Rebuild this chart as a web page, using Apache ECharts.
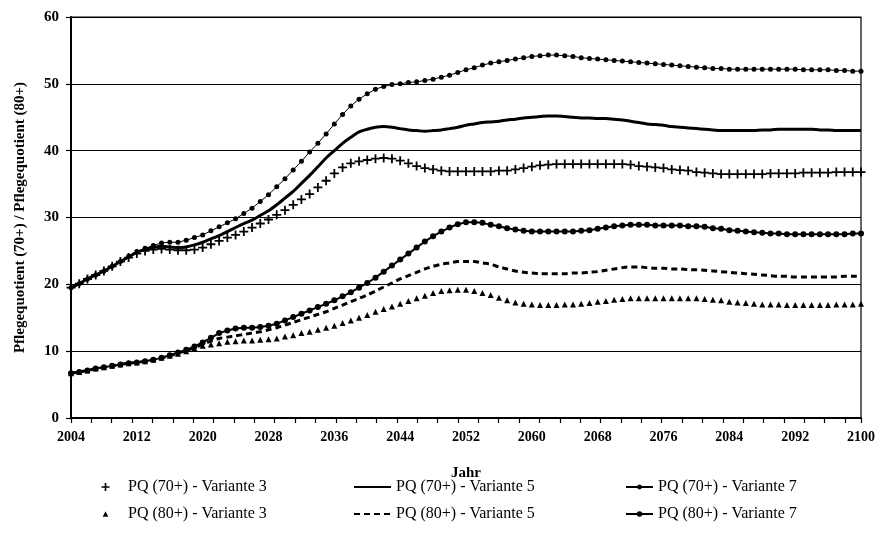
<!DOCTYPE html>
<html>
<head>
<meta charset="utf-8">
<script src="https://cdn.jsdelivr.net/npm/echarts@6/dist/echarts.min.js"></script>
<style>html,body{margin:0;padding:0;background:#fff}#c{width:878px;height:553px}</style>
</head>
<body>
<div id="c"></div>
<script>
// Categories: years 2004..2100
var years = [];
for (var y = 2004; y <= 2100; y++) years.push(String(y));

var yTicks = [0, 10, 20, 30, 40, 50, 60];

var pq70_v3 = [19.5,20.1,20.8,21.4,22.0,22.7,23.4,24.0,24.6,25.0,25.2,25.3,25.2,25.1,25.1,25.2,25.5,26.0,26.5,27.0,
27.4,27.9,28.5,29.1,29.7,30.4,31.1,31.9,32.7,33.5,34.5,35.5,36.6,37.5,38.1,38.4,38.6,38.8,38.9,38.8,
38.5,38.1,37.7,37.4,37.2,37.0,36.9,36.9,36.9,36.9,36.9,36.9,37.0,37.0,37.2,37.4,37.6,37.8,37.9,38.0,
38.0,38.0,38.0,38.0,38.0,38.0,38.0,38.0,37.9,37.7,37.6,37.5,37.4,37.2,37.1,37.0,36.8,36.7,36.6,36.5,
36.5,36.5,36.5,36.5,36.5,36.6,36.6,36.6,36.6,36.7,36.7,36.7,36.7,36.8,36.8,36.8,36.8];

var pq70_v5 = [19.5,20.1,20.8,21.4,22.0,22.7,23.4,24.1,24.8,25.2,25.5,25.7,25.6,25.5,25.6,25.9,26.3,26.8,27.3,27.9,
28.5,29.1,29.6,30.3,31.0,31.9,32.9,33.9,35.1,36.3,37.6,38.9,40.0,41.1,42.0,42.8,43.2,43.5,43.6,43.5,
43.3,43.1,43.0,42.9,43.0,43.1,43.3,43.5,43.8,44.0,44.2,44.3,44.4,44.6,44.7,44.9,45.0,45.1,45.2,45.2,
45.1,45.0,44.9,44.9,44.8,44.8,44.7,44.6,44.4,44.2,44.0,43.9,43.8,43.6,43.5,43.4,43.3,43.2,43.1,43.0,
43.0,43.0,43.0,43.0,43.1,43.1,43.2,43.2,43.2,43.2,43.2,43.1,43.1,43.0,43.0,43.0,43.0];

var pq70_v7 = [19.5,20.1,20.8,21.4,22.0,22.7,23.4,24.2,24.9,25.4,25.8,26.2,26.3,26.3,26.6,27.0,27.4,28.0,28.6,29.2,
29.8,30.6,31.4,32.4,33.4,34.6,35.8,37.1,38.4,39.8,41.1,42.5,44.0,45.4,46.7,47.7,48.5,49.2,49.6,49.9,
50.0,50.2,50.3,50.5,50.7,51.0,51.3,51.7,52.1,52.4,52.8,53.1,53.3,53.5,53.7,53.9,54.1,54.2,54.3,54.3,
54.2,54.1,53.9,53.8,53.7,53.6,53.5,53.4,53.3,53.2,53.1,53.0,52.9,52.8,52.7,52.6,52.5,52.4,52.3,52.3,
52.2,52.2,52.2,52.2,52.2,52.2,52.2,52.2,52.2,52.1,52.1,52.1,52.1,52.0,52.0,51.9,51.9];

var pq80_v3 = [6.7,6.9,7.1,7.4,7.6,7.8,8.0,8.2,8.3,8.5,8.7,9.0,9.3,9.6,10.0,10.4,10.8,11.0,11.2,11.4,
11.5,11.6,11.6,11.7,11.8,11.9,12.2,12.4,12.7,12.9,13.2,13.5,13.8,14.2,14.6,15.0,15.4,15.9,16.3,16.7,
17.1,17.5,17.9,18.3,18.7,19.0,19.1,19.2,19.2,19.0,18.7,18.4,18.0,17.6,17.3,17.1,17.0,16.9,16.9,16.9,
17.0,17.0,17.1,17.2,17.4,17.5,17.7,17.8,17.9,17.9,17.9,17.9,17.9,17.9,17.9,17.9,17.9,17.8,17.7,17.6,
17.4,17.3,17.2,17.1,17.0,17.0,17.0,16.9,16.9,16.9,16.9,16.9,16.9,17.0,17.0,17.0,17.1];

var pq80_v5 = [6.7,6.9,7.1,7.4,7.6,7.8,8.0,8.2,8.3,8.5,8.7,9.0,9.3,9.7,10.1,10.5,11.0,11.5,11.9,12.1,
12.3,12.5,12.7,12.9,13.2,13.5,13.9,14.3,14.7,15.1,15.5,15.9,16.4,16.9,17.4,17.9,18.4,19.0,19.6,20.2,
20.8,21.3,21.8,22.3,22.7,23.0,23.2,23.4,23.4,23.4,23.2,23.0,22.6,22.3,22.0,21.8,21.7,21.6,21.6,21.6,
21.6,21.7,21.7,21.8,21.9,22.1,22.3,22.5,22.6,22.6,22.5,22.4,22.4,22.3,22.3,22.2,22.2,22.1,22.0,21.9,
21.8,21.7,21.6,21.5,21.4,21.3,21.2,21.2,21.1,21.1,21.1,21.1,21.1,21.1,21.2,21.2,21.2];

var pq80_v7 = [6.7,6.9,7.1,7.4,7.6,7.8,8.0,8.2,8.3,8.5,8.7,9.0,9.4,9.8,10.2,10.7,11.3,12.0,12.7,13.1,
13.4,13.5,13.5,13.6,13.8,14.1,14.6,15.1,15.6,16.1,16.6,17.1,17.6,18.2,18.8,19.5,20.2,21.0,21.9,22.8,
23.7,24.6,25.5,26.4,27.2,27.9,28.5,29.0,29.3,29.3,29.2,28.9,28.7,28.4,28.2,28.0,27.9,27.9,27.9,27.9,
27.9,27.9,28.0,28.1,28.3,28.5,28.7,28.8,28.9,28.9,28.9,28.8,28.8,28.8,28.8,28.7,28.7,28.6,28.4,28.3,
28.1,28.0,27.9,27.8,27.7,27.6,27.6,27.5,27.5,27.5,27.5,27.5,27.5,27.5,27.5,27.6,27.6];

var names = ['PQ (70+) - Variante 3','PQ (70+) - Variante 5','PQ (70+) - Variante 7',
             'PQ (80+) - Variante 3','PQ (80+) - Variante 5','PQ (80+) - Variante 7'];

var FONT = '"Liberation Serif", "Times New Roman", serif';
var plusPath = 'path://M4,0L6,0L6,4L10,4L10,6L6,6L6,10L4,10L4,6L0,6L0,4L4,4Z';

var chart = echarts.init(document.getElementById('c'), null, {renderer: 'canvas'});

var legendText = {fontFamily: FONT, fontSize: 16, color: '#000'};
function leg(item, left, top, w, h) {
  return {data: [item], orient: 'horizontal', left: left, top: top, itemWidth: w, itemHeight: h,
          textStyle: legendText, selectedMode: false};
}

chart.setOption({
  animation: false,
  backgroundColor: '#fff',
  grid: {left: 71, right: 15, top: 17, bottom: 135, show: true, borderColor: '#000', borderWidth: 1.2, containLabel: false},
  legend: [
    leg({name: names[0]}, 83, 474, 35, 10),
    leg({name: names[3]}, 83, 501, 35, 7),
    leg({name: names[1], itemStyle: {opacity: 0}}, 348, 474, 37, 10),
    leg({name: names[4], itemStyle: {opacity: 0}}, 348, 501, 37, 10),
    leg({name: names[2]}, 620, 474, 27, 6),
    leg({name: names[5]}, 620, 501, 27, 7)
  ],
  xAxis: [
    {type: 'category', data: years, boundaryGap: false,
     axisLine: {lineStyle: {color: '#000', width: 2}},
     axisTick: {show: false},
     axisLabel: {interval: 7, margin: 12, color: '#000', fontFamily: FONT, fontWeight: 'bold', fontSize: 14},
     name: 'Jahr', nameLocation: 'middle', nameGap: 48,
     nameTextStyle: {fontFamily: FONT, fontWeight: 'bold', fontSize: 15, color: '#000'},
     splitLine: {show: false}},
    {type: 'value', min: 0, max: 96, interval: 2.475, position: 'bottom',
     axisLine: {show: false}, axisLabel: {show: false}, splitLine: {show: false},
     axisTick: {show: true, inside: false, length: 5, lineStyle: {color: '#000', width: 1.2}}}
  ],
  yAxis: {
    type: 'value', min: 0, max: 60, interval: 10,
    axisLine: {show: true, lineStyle: {color: '#000', width: 2}},
    axisTick: {show: true, length: 5, lineStyle: {color: '#000', width: 1.2}},
    axisLabel: {margin: 12, color: '#000', fontFamily: FONT, fontWeight: 'bold', fontSize: 15,
                formatter: function (v) { return yTicks.indexOf(v) >= 0 ? String(v) : ''; }},
    splitLine: {show: true, lineStyle: {color: '#000', width: 1}},
    name: 'Pflegequotient (70+) / Pflegequotient (80+)', nameLocation: 'middle', nameGap: 43,
    nameTextStyle: {fontFamily: FONT, fontWeight: 'bold', fontSize: 15, color: '#000'}
  },
  series: [
    {name: names[0], type: 'line', data: pq70_v3, symbol: plusPath, symbolSize: 9, showSymbol: true, showAllSymbol: true,
     itemStyle: {color: '#000'}, lineStyle: {width: 0, opacity: 0}, z: 3},
    {name: names[1], type: 'line', data: pq70_v5, symbol: 'none', smooth: 0.3,
     itemStyle: {color: '#000'}, lineStyle: {color: '#000', width: 3}, z: 3},
    {name: names[2], type: 'line', data: pq70_v7, symbol: 'circle', symbolSize: 5, showSymbol: true, showAllSymbol: true,
     itemStyle: {color: '#000'}, lineStyle: {color: '#000', width: 1}, z: 3},
    {name: names[3], type: 'line', data: pq80_v3, symbol: 'triangle', symbolSize: 6, showSymbol: true, showAllSymbol: true,
     itemStyle: {color: '#000'}, lineStyle: {width: 0, opacity: 0}, z: 3},
    {name: names[4], type: 'line', data: pq80_v5, symbol: 'none', smooth: 0.3,
     itemStyle: {color: '#000'}, lineStyle: {color: '#000', width: 3, type: [6, 4]}, z: 3},
    {name: names[5], type: 'line', data: pq80_v7, symbol: 'circle', symbolSize: 6, showSymbol: true, showAllSymbol: true,
     itemStyle: {color: '#000'}, lineStyle: {color: '#000', width: 2}, z: 3}
  ]
});
</script>
</body>
</html>
